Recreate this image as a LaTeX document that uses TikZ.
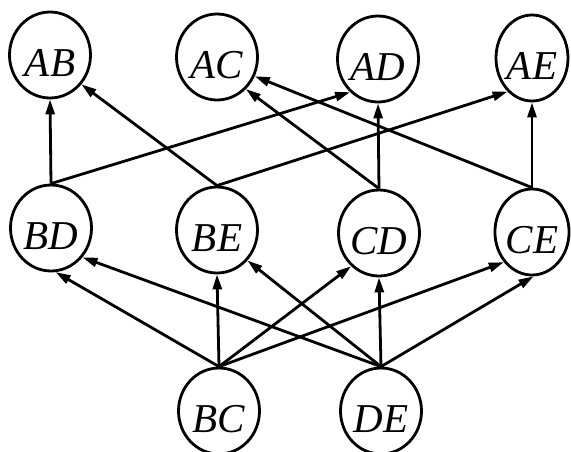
\documentclass[tikz,border=0pt]{standalone}
\usepackage{fontspec}
\setmainfont{Liberation Serif}
\usetikzlibrary{shapes.geometric,arrows.meta}
\begin{document}
\begin{tikzpicture}[x=1pt,y=-1pt,
  vtx/.style={draw,ellipse,line width=2.8pt,minimum width=81pt,minimum height=86pt,
    inner sep=0pt,font=\fontsize{41}{41}\selectfont\itshape,text height=42pt,text depth=0pt},
  narrow/.style={minimum width=72pt},
  edge/.style={line width=2.8pt,-{Triangle[length=15pt,width=9pt]}}]
\useasboundingbox (0,0) rectangle (571,451);
% top row
\node[vtx] (AB) at (50,55) {AB};
\node[vtx] (AC) at (217,57) {AC};
\node[vtx] (AD) at (378,59) {AD};
\node[vtx,narrow] (AE) at (532,58) {AE};
% middle row
\node[vtx] (BD) at (51,228) {BD};
\node[vtx] (BE) at (217,230) {BE};
\node[vtx] (CD) at (379,233) {CD};
\node[vtx,narrow] (CE) at (532,232) {CE};
% bottom row
\node[vtx] (BC) at (219,411) {BC};
\node[vtx] (DE) at (381,411) {DE};
% middle -> top
\draw[edge] (BD.north) -- (AB.south);
\draw[edge] (BD.north) -- (AD.-130);
\draw[edge] (BE.north) -- (AB.-43);
\draw[edge] (BE.north) -- (AE.-126);
\draw[edge] (CD.north) -- (AC.-48);
\draw[edge] (CD.north) -- (AD.south);
\draw[edge] (CE.north) -- (AC.-27);
\draw[edge] (CE.north) -- (AE.south);
% bottom -> middle
\draw[edge] (BC.north) -- (BD.-84);
\draw[edge] (BC.north) -- (BE.south);
\draw[edge] (BC.north) -- (CD.-130);
\draw[edge] (BC.north) -- (CE.-133);
\draw[edge] (DE.north) -- (BD.-43);
\draw[edge] (DE.north) -- (BE.-45);
\draw[edge] (DE.north) -- (CD.south);
\draw[edge] (DE.north) -- (CE.-88);
\end{tikzpicture}
\end{document}
